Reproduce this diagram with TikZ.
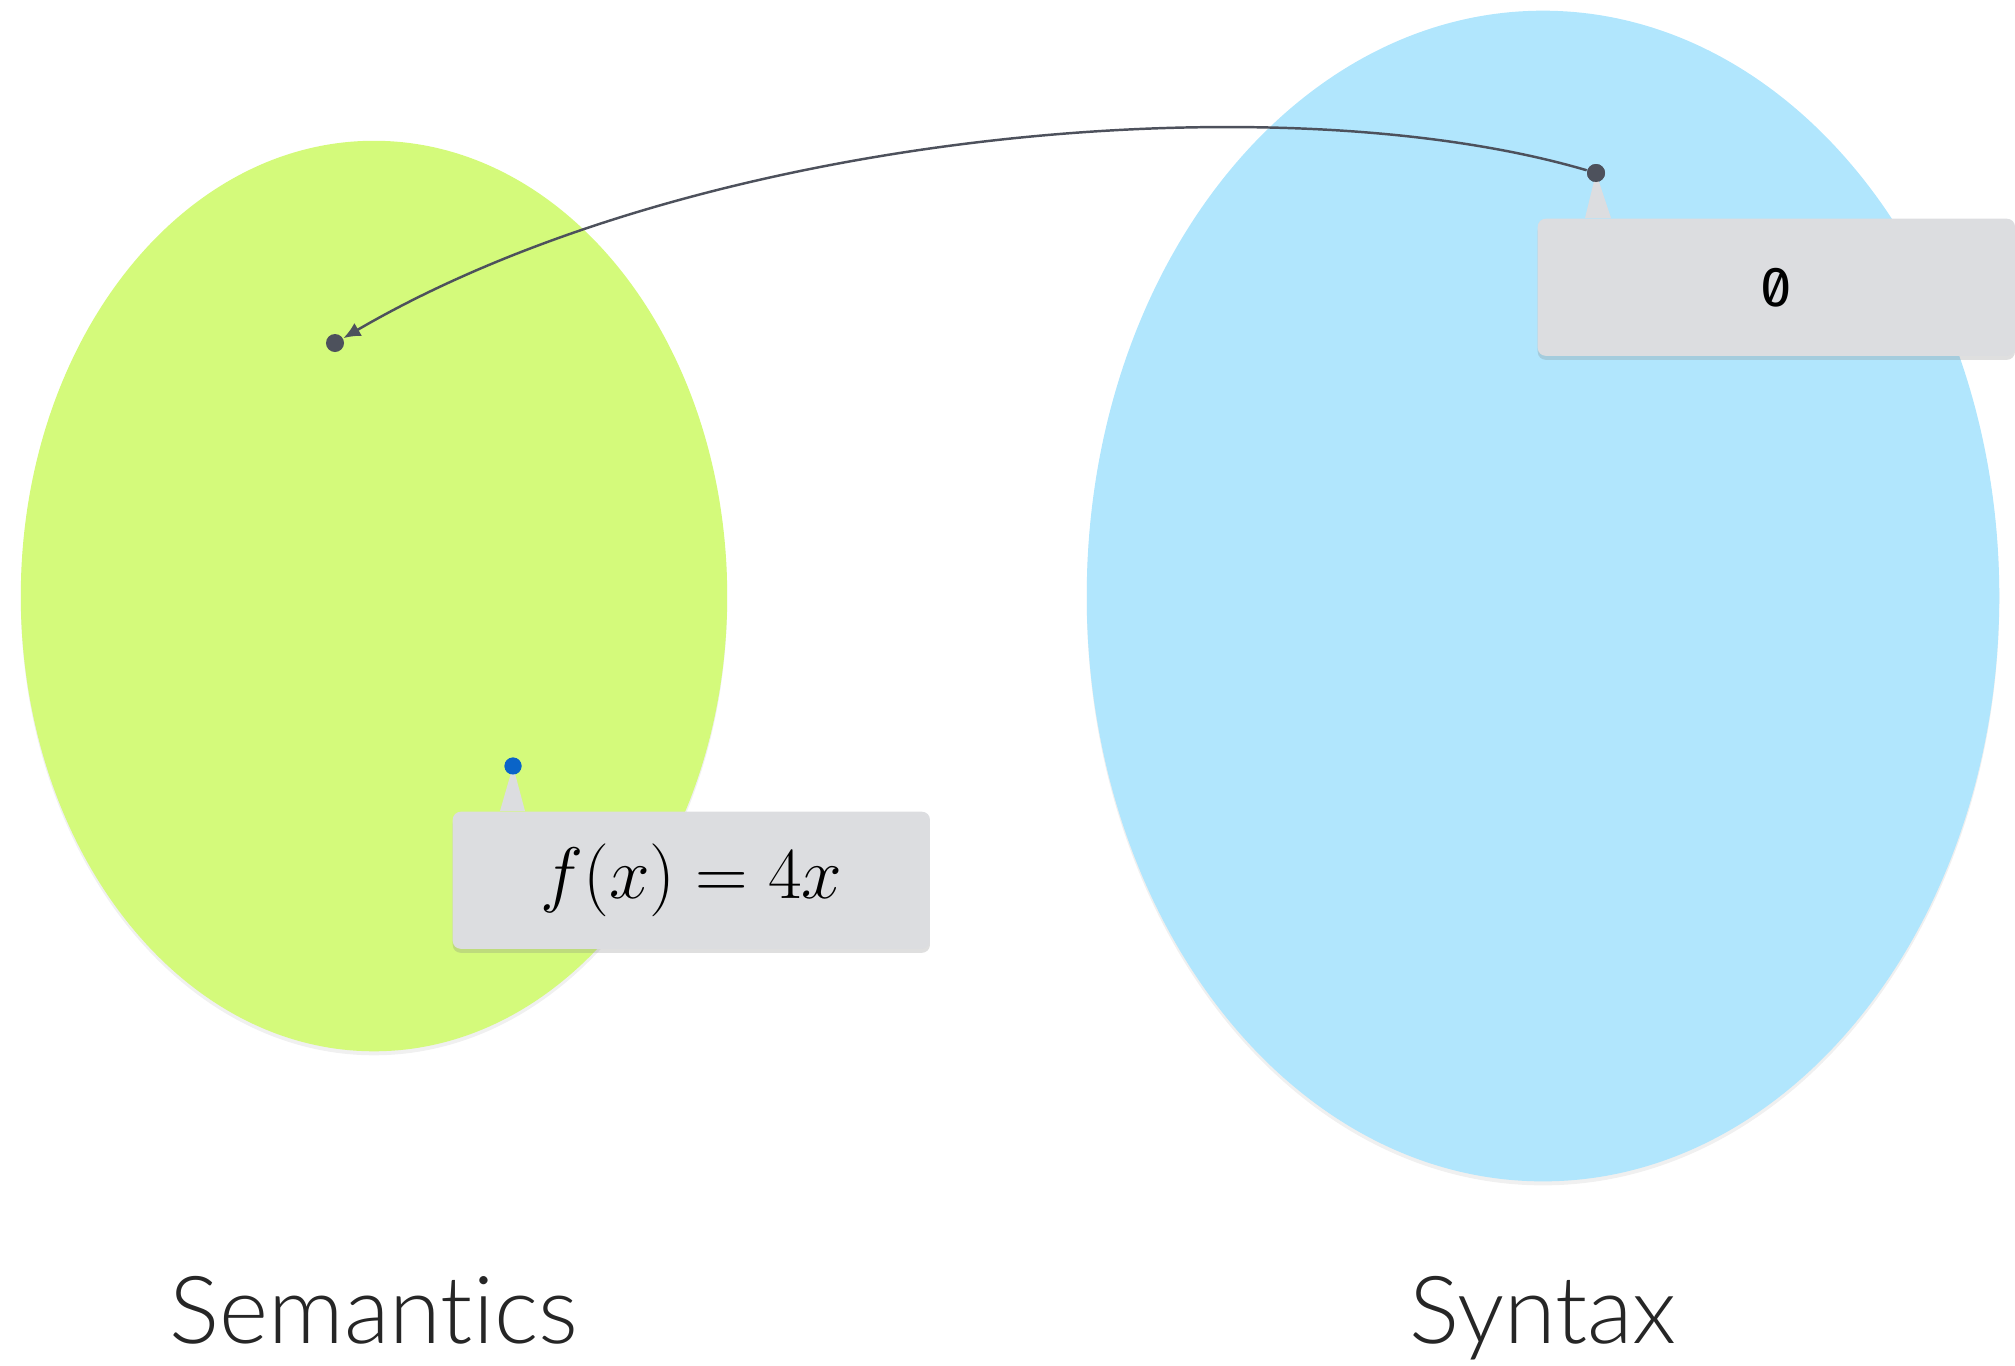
\documentclass[tikz,border=0pt]{standalone}
\usepackage{fontspec}
\setmainfont{Lato}[UprightFont={* Light}, Ligatures={NoCommon}]
\newfontfamily\codefont{Fira Sans}[Numbers=SlashedZero]
\usetikzlibrary{arrows.meta,shadows,shapes.geometric}

\definecolor{semgreen}{HTML}{D4FA7B}
\definecolor{synblue}{HTML}{B1E6FD}
\definecolor{tipgray}{HTML}{DCDDE0}
\definecolor{dotgray}{HTML}{4D515C}
\definecolor{dotblue}{HTML}{0A64C8}

\begin{document}
\begin{tikzpicture}[
    x=0.01cm, y=-0.01cm,
    blob/.style={ellipse, inner sep=0pt,
                 drop shadow={opacity=0.12, shadow xshift=0cm, shadow yshift=-0.04cm}},
    dot/.style={circle, fill=dotgray, inner sep=0pt, minimum size=0.18cm},
    tipbox/.style={rectangle, rounded corners=0.08cm, fill=tipgray,
                   minimum width=4.77cm, minimum height=1.37cm, inner sep=0pt,
                   drop shadow={opacity=0.25, shadow xshift=0cm, shadow yshift=-0.04cm}},
    caption/.style={font=\fontsize{26.7}{32}\selectfont, text=black!85, anchor=base},
    link/.style={-{Latex[length=0.17cm, width=0.15cm]}, dotgray, line width=0.7pt},
]
\useasboundingbox (0,0) rectangle (2015,1365);

% Two sets
\node[blob, fill=semgreen, minimum width=7.06cm, minimum height=9.1cm] (sem) at (374,596) {};
\node[blob, fill=synblue, minimum width=9.12cm, minimum height=11.7cm] (syn) at (1543,596) {};

% Points
\node[dot] (semdot) at (335,343) {};
\node[dot, fill=dotblue, minimum size=0.17cm] (fdot) at (513,766) {};
\node[dot] (syndot) at (1596,173) {};

% Callouts
\fill[tipgray] (1585,218) -- (syndot.center) -- (1611,218) -- cycle;
\node[tipbox, anchor=north west] (zero) at (1537,218) {\codefont\fontsize{16}{19}\selectfont 0};
\node[dot] at (syndot) {};

\fill[tipgray] (500,811) -- (fdot.center) -- (525,811) -- cycle;
\node[tipbox, anchor=north west] (func) at (452,811) {\fontsize{20.2}{24}\selectfont $f(x) = 4x$};
\node[dot, fill=dotblue, minimum size=0.17cm] at (fdot) {};

% Mapping
\draw[link] (syndot) .. controls (1280,80) and (700,130) .. (semdot);

% Labels
\node[caption] (semlabel) at (374,1343) {Semantics};
\node[caption] (synlabel) at (1543,1343) {Syntax};
\end{tikzpicture}
\end{document}
